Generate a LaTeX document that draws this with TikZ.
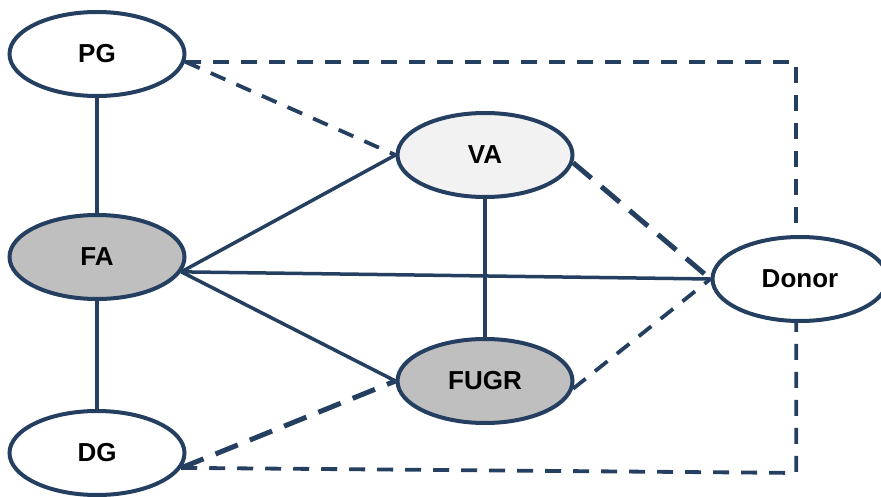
\documentclass[tikz,border=0pt]{standalone}
\usepackage{fontspec}
\setmainfont{Liberation Sans}
\usepackage{tikz}
\usetikzlibrary{shapes.geometric}

\definecolor{linkblue}{HTML}{243F60}
\definecolor{fagray}{HTML}{BFBFBF}
\definecolor{valight}{HTML}{F2F2F2}

\begin{document}
\begin{tikzpicture}[x=1pt,y=1pt,
    ent/.style={ellipse,draw=linkblue,line width=4pt,fill=white,minimum width=175pt,minimum height=84pt,inner sep=0pt,font=\fontsize{26}{30}\selectfont\bfseries},
    link/.style={draw=linkblue,line width=3.5pt},
    dlink/.style={link,line width=3.8pt,dash pattern=on 16pt off 12pt},
    boldlink/.style={link,line width=5pt,dash pattern=on 24pt off 13pt}]
    \useasboundingbox (0,0) rectangle (881,496);
    % the six ellipses
    \node[ent] (PG) at (97,442) {PG};
    \node[ent,fill=fagray] (FA) at (97,239) {FA};
    \node[ent] (DG) at (97,43) {DG};
    \node[ent,fill=valight] (VA) at (485,341) {VA};
    \node[ent,fill=fagray] (FUGR) at (485,115) {FUGR};
    \node[ent] (Donor) at (800,217) {Donor};
    \coordinate (dgturn) at ([yshift=-150pt]Donor.265);
    % solid links
    \draw[link] (PG.south) -- (FA.north);
    \draw[link] (FA.south) -- (DG.north);
    \draw[link] (FA.-10) -- (VA.west);
    \draw[link] (FA.-10) -- (FUGR.west);
    \draw[link] (FA.-10) -- (Donor.west);
    \draw[link] (VA.south) -- (FUGR.north);
    % dashed links
    \draw[dlink] (PG.-5) -- (VA.west);
    \draw[dlink] (PG.-5) -- (PG.-5 -| Donor.95) -- (Donor.95);
    \draw[dlink] (DG.-10) -- (dgturn) -- (Donor.265);
    \draw[dlink] (FUGR.-5) -- (Donor.west);
    \draw[boldlink] (VA.-5) -- (Donor.west);
    \draw[boldlink] (DG.-10) -- (FUGR.west);
\end{tikzpicture}
\end{document}
